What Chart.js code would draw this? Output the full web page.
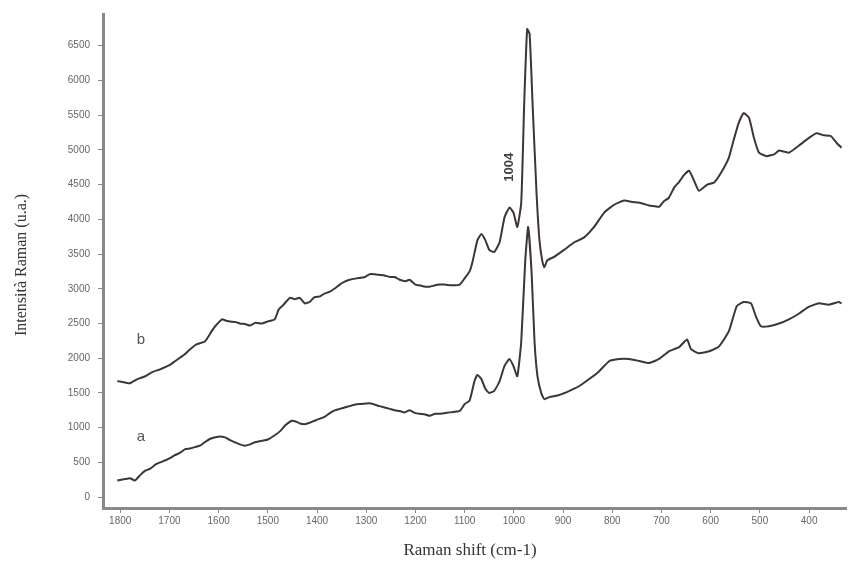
<!DOCTYPE html>
<html>
<head>
<meta charset="utf-8">
<script src="https://cdn.jsdelivr.net/npm/chart.js@4.4.1/dist/chart.umd.min.js"></script>
<style>
  html, body { margin: 0; padding: 0; background: #fff; }
  #wrap { width: 848px; height: 566px; }
</style>
</head>
<body>
<div id="wrap"><canvas id="ramanChart" width="848" height="566"></canvas></div>
<script>
// Spettro b (superiore): numero d'onda e intensità
const waveB = [1806, 1790, 1780, 1765, 1749, 1735, 1719, 1700, 1688, 1670, 1658, 1645, 1628, 1615, 1607, 1593, 1585, 1577, 1565, 1557, 1545, 1536, 1525, 1512, 1500, 1486, 1478, 1471, 1462, 1455, 1445, 1435, 1425, 1415, 1405, 1394, 1385, 1374, 1365, 1354, 1345, 1334, 1320, 1303, 1293, 1283, 1273, 1263, 1252, 1242, 1232, 1220, 1212, 1200, 1192, 1180, 1171, 1160, 1151, 1141, 1125, 1110, 1100, 1090, 1084, 1074, 1066, 1058, 1050, 1040, 1029, 1019, 1009, 1001, 993, 985, 979, 973, 968, 962, 954, 948, 942, 938, 932, 918, 898, 877, 857, 837, 816, 796, 776, 760, 745, 735, 725, 715, 705, 695, 685, 674, 664, 654, 644, 634, 624, 607, 593, 579, 563, 553, 543, 533, 522, 512, 502, 486, 470, 461, 441, 421, 401, 385, 370, 356, 344, 334];
const intB = [1670, 1650, 1640, 1700, 1740, 1800, 1840, 1900, 1960, 2050, 2130, 2200, 2240, 2380, 2460, 2560, 2540, 2530, 2520, 2500, 2490, 2470, 2510, 2500, 2530, 2560, 2700, 2750, 2820, 2870, 2850, 2870, 2790, 2810, 2880, 2890, 2930, 2960, 3000, 3060, 3100, 3130, 3150, 3170, 3210, 3210, 3200, 3190, 3170, 3170, 3130, 3110, 3130, 3060, 3050, 3030, 3030, 3050, 3060, 3060, 3050, 3060, 3150, 3250, 3390, 3700, 3790, 3700, 3560, 3530, 3670, 4030, 4170, 4100, 3890, 4240, 5670, 6740, 6670, 5670, 4390, 3700, 3390, 3310, 3410, 3460, 3560, 3670, 3740, 3890, 4100, 4210, 4270, 4250, 4240, 4220, 4200, 4190, 4180, 4260, 4310, 4460, 4540, 4640, 4700, 4560, 4410, 4500, 4530, 4670, 4890, 5150, 5390, 5530, 5460, 5170, 4960, 4910, 4940, 4990, 4960, 5060, 5170, 5240, 5210, 5200, 5100, 5030];

// Spettro a (inferiore)
const waveA = [1806, 1790, 1780, 1770, 1759, 1749, 1739, 1728, 1719, 1708, 1699, 1690, 1678, 1668, 1658, 1648, 1638, 1628, 1617, 1601, 1587, 1577, 1567, 1557, 1547, 1536, 1526, 1512, 1500, 1486, 1475, 1465, 1451, 1440, 1435, 1425, 1415, 1405, 1394, 1384, 1374, 1364, 1354, 1344, 1334, 1324, 1313, 1293, 1273, 1252, 1242, 1232, 1222, 1212, 1200, 1192, 1180, 1171, 1160, 1151, 1131, 1110, 1100, 1090, 1080, 1074, 1066, 1058, 1050, 1040, 1029, 1019, 1009, 1001, 993, 985, 977, 971, 964, 958, 952, 944, 938, 928, 908, 887, 867, 847, 827, 806, 786, 766, 745, 725, 705, 685, 664, 648, 640, 624, 603, 583, 563, 547, 533, 518, 508, 498, 482, 461, 441, 421, 401, 380, 360, 340, 334];
const intA = [240, 260, 270, 240, 320, 380, 410, 470, 500, 530, 560, 600, 640, 690, 700, 720, 740, 790, 840, 870, 860, 820, 790, 760, 740, 760, 790, 810, 830, 890, 950, 1030, 1100, 1080, 1060, 1050, 1070, 1100, 1130, 1160, 1210, 1250, 1270, 1290, 1310, 1330, 1340, 1350, 1310, 1270, 1250, 1240, 1220, 1250, 1210, 1200, 1190, 1170, 1200, 1200, 1220, 1240, 1340, 1390, 1670, 1760, 1700, 1560, 1500, 1530, 1670, 1890, 1990, 1890, 1740, 2240, 3390, 3890, 3240, 2240, 1740, 1490, 1410, 1440, 1470, 1530, 1600, 1700, 1810, 1960, 1990, 1990, 1960, 1930, 1990, 2100, 2160, 2270, 2130, 2070, 2100, 2170, 2390, 2750, 2810, 2790, 2600, 2460, 2460, 2500, 2560, 2640, 2740, 2790, 2770, 2810, 2790];

// Etichette degli assi
const xTicks = [1800, 1700, 1600, 1500, 1400, 1300, 1200, 1100, 1000, 900, 800, 700, 600, 500, 400];
const yTicks = [0, 500, 1000, 1500, 2000, 2500, 3000, 3500, 4000, 4500, 5000, 5500, 6000, 6500];

// Etichette sul grafico: [testo, numero d'onda, intensità]
const curveLabels = [["b", 1758, 2270], ["a", 1758, 870]];
const peakLabel = ["1004", 1009, 4750];

const lineColor = "#3f3535";
const axisColor = "#8c8888";

function toPoints(xs, ys) {
    return xs.map((x, i) => ({ x: x, y: ys[i] }));
}

// Testi extra: titoli degli assi e annotazioni
const textPlugin = {
    id: "ramanText",
    afterDraw(chart) {
        const ctx = chart.ctx;
        const xs = chart.scales.x;
        const ys = chart.scales.y;
        ctx.save();
        ctx.fillStyle = "#333";
        ctx.textAlign = "center";
        ctx.textBaseline = "middle";

        ctx.font = "17px 'Liberation Serif', serif";
        ctx.fillText("Raman shift (cm-1)", 470, 551);

        ctx.save();
        ctx.translate(22, 265);
        ctx.rotate(-Math.PI / 2);
        ctx.font = "16px 'Liberation Serif', serif";
        ctx.fillText("Intensità Raman (u.a.)", 0, 0);
        ctx.restore();

        ctx.font = "15px 'Liberation Sans', sans-serif";
        ctx.fillStyle = "#555";
        curveLabels.forEach(([t, wx, wy]) => {
            ctx.fillText(t, xs.getPixelForValue(wx), ys.getPixelForValue(wy));
        });

        ctx.save();
        ctx.translate(xs.getPixelForValue(peakLabel[1]), ys.getPixelForValue(peakLabel[2]));
        ctx.rotate(-Math.PI / 2);
        ctx.font = "bold 13px 'Liberation Sans', sans-serif";
        ctx.fillStyle = "#444";
        ctx.fillText(peakLabel[0], 0, 0);
        ctx.restore();

        ctx.restore();
    }
};

function createRamanChart() {
    const ctx = document.getElementById("ramanChart").getContext("2d");
    const tickFont = { size: 10, family: "'Liberation Sans', sans-serif" };
    new Chart(ctx, {
        type: "line",
        data: {
            datasets: [
                { label: "b", data: toPoints(waveB, intB), borderColor: lineColor, borderWidth: 2, pointRadius: 0, tension: 0.15, fill: false },
                { label: "a", data: toPoints(waveA, intA), borderColor: lineColor, borderWidth: 2, pointRadius: 0, tension: 0.15, fill: false }
            ]
        },
        options: {
            responsive: false,
            animation: false,
            layout: { padding: { top: 10, right: 2, left: 0, bottom: 0 } },
            plugins: { legend: { display: false }, tooltip: { enabled: false } },
            scales: {
                x: {
                    type: "linear",
                    reverse: true,
                    min: 325,
                    max: 1835,
                    afterBuildTicks: (axis) => { axis.ticks = xTicks.map(v => ({ value: v })); },
                    afterFit: (axis) => { axis.height = 58; },
                    grid: { drawOnChartArea: false, color: axisColor, tickLength: 5 },
                    border: { color: axisColor, width: 3 },
                    ticks: { color: "#666", font: tickFont, padding: 2, maxRotation: 0, autoSkip: false, callback: (v) => String(v) }
                },
                y: {
                    min: -157,
                    max: 6957,
                    afterBuildTicks: (axis) => { axis.ticks = yTicks.map(v => ({ value: v })); },
                    afterFit: (axis) => { axis.width = 103; },
                    grid: { drawOnChartArea: false, color: axisColor, tickLength: 5 },
                    border: { color: axisColor, width: 3 },
                    ticks: { color: "#666", font: tickFont, padding: 8, autoSkip: false, callback: (v) => String(v) }
                }
            }
        },
        plugins: [textPlugin]
    });
}

document.addEventListener("DOMContentLoaded", createRamanChart);
</script>
</body>
</html>
